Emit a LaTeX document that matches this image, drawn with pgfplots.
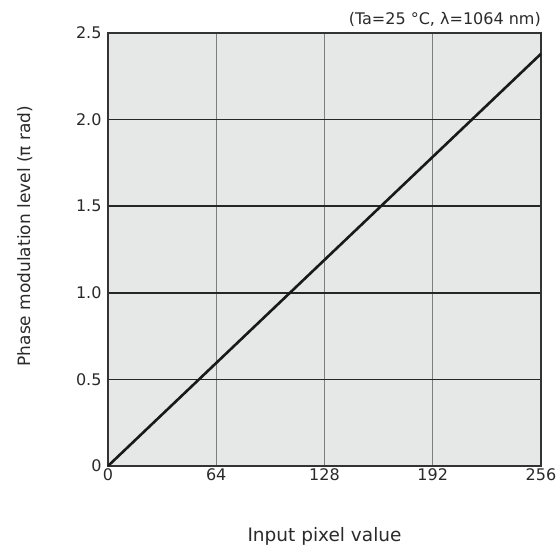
\documentclass[border=0pt]{standalone}
\usepackage{fontspec}
\setmainfont{DejaVu Sans}
\usepackage{pgfplots}
\pgfplotsset{compat=1.18}
\definecolor{bgray}{HTML}{E6E7E7}
\definecolor{vgrid}{HTML}{7E7E7E}
\definecolor{txt}{HTML}{2A2A2A}
\begin{document}
\begin{tikzpicture}
\useasboundingbox (-108pt,-84pt) rectangle (449pt,466pt);
\begin{axis}[
  scale only axis,
  width=433pt, height=433pt,
  xmin=0, xmax=256, ymin=0, ymax=2.5,
  xtick={0,64,128,192,256},
  ytick={0,0.5,1.0,1.5,2.0,2.5},
  yticklabels={0,0.5,1.0,1.5,2.0,2.5},
  /pgf/number format/assume math mode=true,
  tick label style={font=\fontsize{16}{18}\selectfont, text=txt},
  tick style={draw=none},
  axis background/.style={fill=bgray},
  axis line style={line width=1.6pt, draw=black!80},
  x grid style={draw=vgrid, line width=1.3pt},
  y grid style={draw=black!85, line width=1.5pt},
  xmajorgrids, ymajorgrids,
  xticklabel style={yshift=1pt},
  yticklabel style={xshift=-3pt},
  xlabel={Input pixel value},
  ylabel={Phase modulation level (π rad)},
  label style={text=txt},
  xlabel style={font=\fontsize{18.5}{21}\selectfont, at={(axis description cs:0.5,-0.162)}, anchor=center},
  ylabel style={font=\fontsize{17}{20}\selectfont, at={(axis description cs:-0.192,0.531)}, anchor=center},
  clip=true,
]
\addplot[line width=2.6pt, color=black!90] coordinates {(0,0) (256,2.38)};
\end{axis}
\node[anchor=south east, font=\fontsize{16}{18}\selectfont, text=txt, inner sep=0pt] at (433pt,439pt) {(Ta=25 °C, λ=1064 nm)};
\end{tikzpicture}
\end{document}
